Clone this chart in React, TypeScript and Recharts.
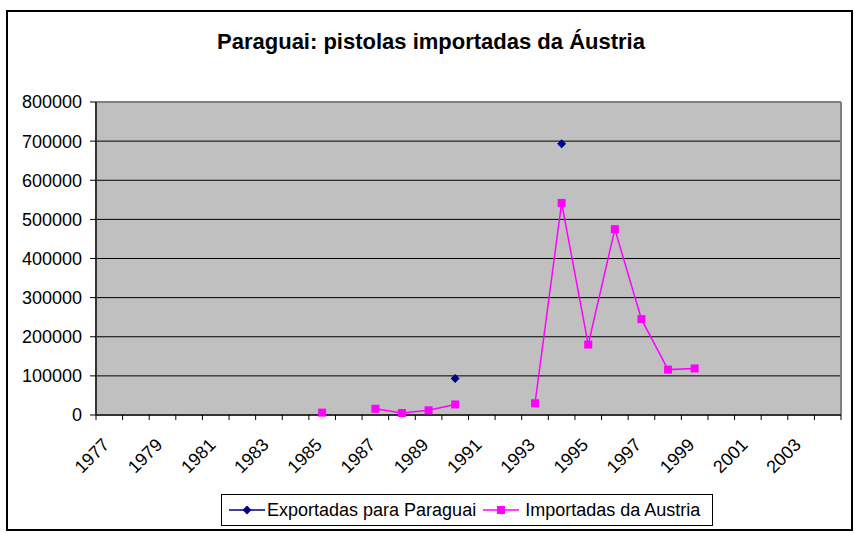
import React from 'react';
import {
  ComposedChart,
  Line,
  XAxis,
  YAxis,
  CartesianGrid,
  Legend,
} from 'recharts';

const years = [
  '1977', '1978', '1979', '1980', '1981', '1982', '1983', '1984', '1985', '1986',
  '1987', '1988', '1989', '1990', '1991', '1992', '1993', '1994', '1995', '1996',
  '1997', '1998', '1999', '2000', '2001', '2002', '2003', '2004',
];

const exportadas = [
  null, null, null, null, null, null, null, null, null, null,
  null, null, null, 93000, null, null, null, 693000, null, null,
  null, null, null, null, null, null, null, null,
];

const importadas = [
  null, null, null, null, null, null, null, null, 6000, null,
  16000, 5000, 12000, 27000, null, null, 30000, 542000, 180000, 475000,
  245000, 116000, 119000, null, null, null, null, null,
];

const yTicks = [0, 100000, 200000, 300000, 400000, 500000, 600000, 700000, 800000];

const data = years.map((year, i) => ({
  year,
  exportadas: exportadas[i],
  importadas: importadas[i],
}));

const FONT = '"Liberation Sans", Arial, sans-serif';
const NAVY = '#000080';
const MAGENTA = '#FF00FF';

const Square = (props: any) => {
  const { cx, cy, value, index } = props;
  if (value == null || cy == null) return <g key={'s' + index} />;
  return <rect key={'s' + index} x={cx - 4} y={cy - 4} width={8} height={8} fill={MAGENTA} />;
};

const Diamond = (props: any) => {
  const { cx, cy, value, index } = props;
  if (value == null || cy == null) return <g key={'d' + index} />;
  return (
    <polygon
      key={'d' + index}
      points={`${cx},${cy - 4.5} ${cx + 4.5},${cy} ${cx},${cy + 4.5} ${cx - 4.5},${cy}`}
      fill={NAVY}
    />
  );
};

const YearTick = (props: any) => {
  const { x, y, payload, index } = props;
  const half = payload.offset || 0;
  const showLabel = index % 2 === 0;
  return (
    <g>
      <line x1={x - half} y1={y} x2={x - half} y2={y + 5} stroke="#000" />
      {index === years.length - 1 && (
        <line x1={x + half} y1={y} x2={x + half} y2={y + 5} stroke="#000" />
      )}
      {showLabel && (
        <text
          x={x + 1}
          y={y + 31}
          transform={`rotate(-45, ${x + 1}, ${y + 31})`}
          textAnchor="end"
          fontSize={18}
          fontFamily={FONT}
          fill="#000"
        >
          {payload.value}
        </text>
      )}
    </g>
  );
};

const LegendBox = () => (
  <div
    style={{
      border: '1px solid #000',
      width: 492,
      height: 32,
      boxSizing: 'border-box',
      display: 'flex',
      alignItems: 'center',
      fontFamily: FONT,
      fontSize: 18,
      color: '#000',
      background: '#fff',
      whiteSpace: 'nowrap',
    }}
  >
    <svg width={38} height={14} style={{ marginLeft: 7 }}>
      <line x1={0} y1={7} x2={36} y2={7} stroke={NAVY} strokeWidth={1.5} />
      <polygon points="18,2.5 22.5,7 18,11.5 13.5,7" fill={NAVY} />
    </svg>
    <span>Exportadas para Paraguai</span>
    <svg width={42} height={14} style={{ marginLeft: 7 }}>
      <line x1={0} y1={7} x2={36} y2={7} stroke={MAGENTA} strokeWidth={1.5} />
      <rect x={14} y={3} width={8} height={8} fill={MAGENTA} />
    </svg>
    <span>Importadas da Austria</span>
  </div>
);

export default function App() {
  return (
    <div style={{ position: 'absolute', left: 0, top: 0, width: 854, height: 533, background: '#fff' }}>
      <div
        style={{
          position: 'absolute',
          left: 6,
          top: 10,
          width: 847,
          height: 521,
          border: '2px solid #000',
          boxSizing: 'border-box',
        }}
      />
      <div
        style={{
          position: 'absolute',
          left: 0,
          top: 29,
          width: 862,
          textAlign: 'center',
          fontFamily: FONT,
          fontWeight: 'bold',
          fontSize: 22,
          color: '#000',
        }}
      >
        Paraguai: pistolas importadas da Áustria
      </div>
      <div style={{ position: 'absolute', left: 0, top: 0 }}>
        <ComposedChart
          width={854}
          height={533}
          data={data}
          margin={{ top: 102, right: 13, left: 0, bottom: 58 }}
        >
          <CartesianGrid
            vertical={false}
            stroke="#000"
            fill="#C0C0C0"
            fillOpacity={1}
          />
          <CartesianGrid
            stroke="#808080"
            strokeWidth={2}
            horizontalCoordinatesGenerator={({ offset }: any) => [offset.top]}
            verticalCoordinatesGenerator={({ offset }: any) => [offset.left + offset.width]}
          />
          <XAxis
            dataKey="year"
            scale="band"
            interval={0}
            tickLine={false}
            tickSize={0}
            tickMargin={0}
            height={60}
            axisLine={{ stroke: '#333', strokeWidth: 2 }}
            tick={<YearTick />}
          />
          <YAxis
            width={96}
            domain={[0, 800000]}
            ticks={yTicks}
            interval={0}
            tickSize={6}
            tickMargin={8}
            tickLine={{ stroke: '#000' }}
            axisLine={{ stroke: '#333', strokeWidth: 2 }}
            tick={{ fontSize: 18, fill: '#000', fontFamily: FONT }}
          />
          <Line
            dataKey="exportadas"
            name="Exportadas para Paraguai"
            stroke={NAVY}
            strokeWidth={1.5}
            dot={Diamond}
            activeDot={false}
            connectNulls={false}
            isAnimationActive={false}
          />
          <Line
            dataKey="importadas"
            name="Importadas da Austria"
            stroke={MAGENTA}
            strokeWidth={1.5}
            dot={Square}
            activeDot={false}
            connectNulls={false}
            isAnimationActive={false}
          />
          <Legend
            layout="horizontal"
            verticalAlign="middle"
            align="center"
            content={<LegendBox />}
            wrapperStyle={{ top: 494, left: 221, width: 492 }}
          />
        </ComposedChart>
      </div>
    </div>
  );
}
